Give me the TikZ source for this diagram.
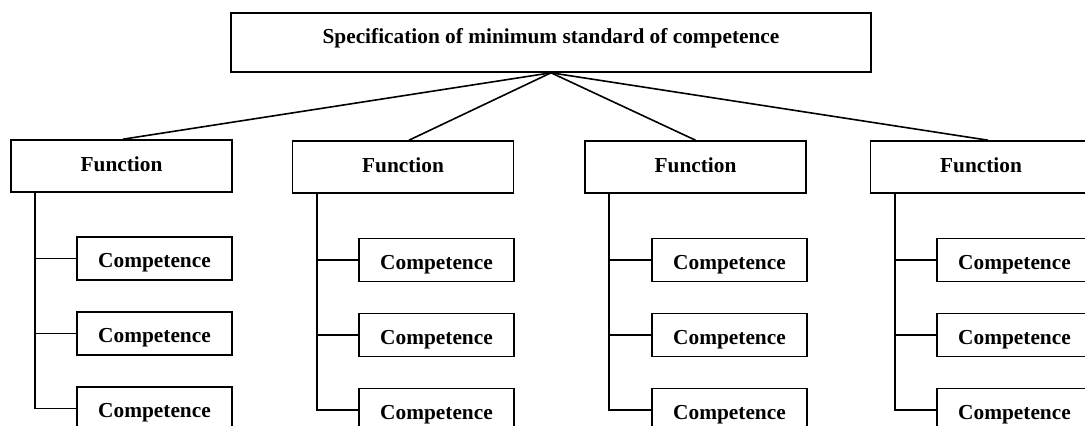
\documentclass[tikz,border=0pt]{standalone}
\usepackage{fontspec}
\setmainfont{Liberation Serif}
\begin{document}
\begin{tikzpicture}[x=0.75pt,y=-0.75pt,
  box/.style={draw, line width=1.2pt, inner sep=0pt, align=center,
    font=\fontsize{16}{19}\selectfont\bfseries},
  topbox/.style={box, minimum width=480pt, minimum height=44.25pt,
    text height=10.9pt, text depth=9.4pt},
  funcbox/.style={box, minimum width=165.75pt, minimum height=39pt,
    text height=10.9pt, text depth=2.6pt},
  compbox/.style={box, minimum width=116.25pt, minimum height=32.25pt,
    text height=13.5pt, text depth=0pt},
  link/.style={line width=1.2pt}]
\useasboundingbox (0,0) rectangle (1085,425);
\clip (0,0) rectangle (1085,425);

% top of the hierarchy
\node[topbox] (spec) at (551,42.5) {Specification of minimum standard of competence};

% four functions, each with three competences hanging off a trunk
\foreach \i/\fx/\fy/\dx/\cx/\cy in {1/121.5/166/1.1/154.5/258.5,
                                    2/403/167/4.5/436.5/260,
                                    3/695.5/167/0/729.5/260,
                                    4/981/167/5.2/1014.5/260}{
  \node[funcbox] (f\i) at (\fx,\fy) {Function};
  \draw[link] (spec.south) -- ([xshift=\dx pt]f\i.north);
  \coordinate (t\i) at ([xshift=18.75pt]f\i.south west);
  \foreach \k in {1,2,3}{
    \node[compbox] (c\i\k) at (\cx,{\cy+75*(\k-1)}) {Competence};
    \draw[link] (c\i\k.west) -- (t\i |- c\i\k.west);
  }
  \draw[link] (t\i) |- (c\i3.west);
}
\end{tikzpicture}
\end{document}
